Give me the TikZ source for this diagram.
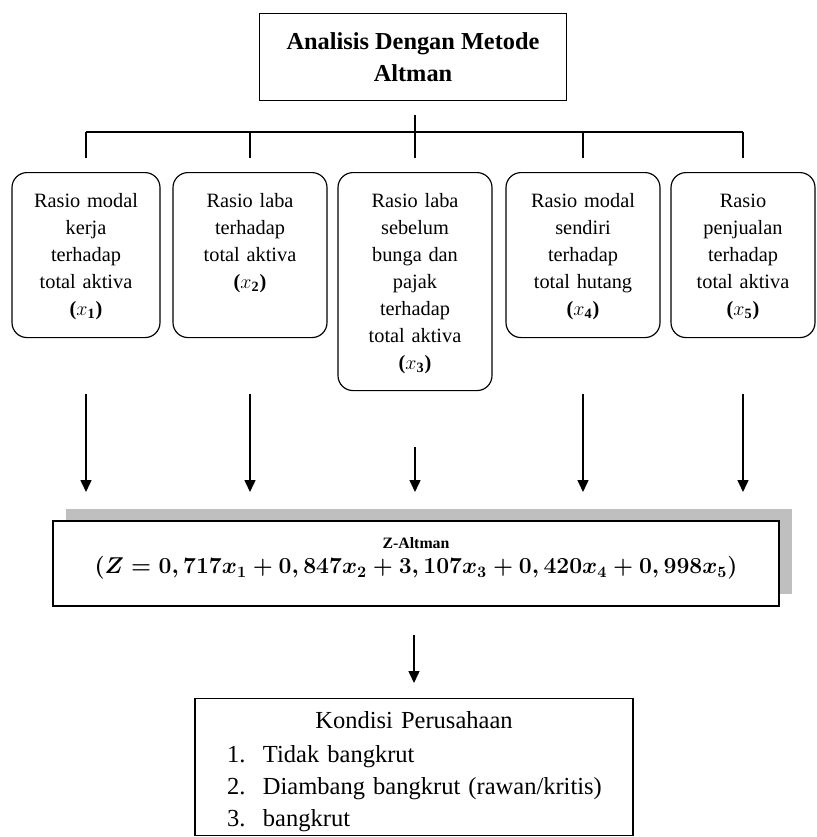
\documentclass[tikz,border=0pt]{standalone}
\usepackage{fontspec}
\usepackage{graphicx}
\setmainfont{Liberation Serif}
\usetikzlibrary{arrows.meta,shadows}

\tikzstyle{ratiobox}=[draw, line width=0.7pt, rounded corners=9pt, anchor=north, inner sep=0pt, text height=20.8pt, align=center, font=\fontsize{12.2}{16.2}\selectfont]
\tikzstyle{flow}=[-{Triangle[width=6.6pt,length=7.2pt]}, line width=0.9pt]
\tikzstyle{tree}=[line width=0.8pt]

\newcommand{\ratiovar}[1]{\textbf{(}$x_{\mathbf{#1}}$\textbf{)}}

\begin{document}
\begin{tikzpicture}[x=0.6pt, y=-0.6pt]
  \useasboundingbox (0,0) rectangle (816,837);

  \node[draw, line width=0.8pt, anchor=north, minimum width=184.2pt, minimum height=52.2pt,
        align=center, font=\fontsize{14.6}{19.2}\selectfont\bfseries] (title) at (413,13)
    {Analisis Dengan Metode\\Altman};

  % the five ratios
  \foreach \name/\cx/\w/\d/\txt in {%
      b1/86/88.8/78.2/{Rasio modal\\kerja\\terhadap\\total aktiva\\\ratiovar{1}},
      b2/250/92.4/78.2/{Rasio laba\\terhadap\\total aktiva\\\ratiovar{2}},
      b3/415/92.4/110/{Rasio laba\\sebelum\\bunga dan\\pajak\\terhadap\\total aktiva\\\ratiovar{3}},
      b4/583/92.4/78.2/{Rasio modal\\sendiri\\terhadap\\total hutang\\\ratiovar{4}},
      b5/743/86.4/78.2/{Rasio\\penjualan\\terhadap\\total aktiva\\\ratiovar{5}}} {%
    \node[ratiobox, text width=\w pt, text depth=\d pt] (\name) at (\cx,172) {\txt};
  }

  \coordinate (bus) at (415,132);
  \draw[tree, shorten <=8.4pt] (title.south -| bus) -- (bus);
  \draw[tree] (b1.north |- bus) -- (b5.north |- bus);
  \foreach \name in {b1,b2,b3,b4,b5}
    \draw[tree, shorten >=8.4pt] (\name.north |- bus) -- (\name.north);

  \node[draw, line width=1.1pt, fill=white, anchor=north, inner sep=0pt,
        text width=435.6pt, text height=16.8pt, text depth=34.2pt, align=center,
        general shadow={fill=black!25, shadow xshift=7.8pt, shadow yshift=7.2pt}] (zbox) at (416,520)
    {{\fontsize{9.5}{11}\selectfont\bfseries Z-Altman\par}
     {\fontsize{14}{15}\selectfont\scalebox{0.955}{\boldmath$(Z = 0,717x_1 + 0,847x_2 + 3,107x_3 + 0,420x_4 + 0,998x_5)$}\par}};

  \foreach \name in {b1,b2,b3,b4,b5}
    \draw[flow, shorten <=33.6pt, shorten >=16.8pt] (\name.south) -- (\name.south |- zbox.north);

  \node[draw, line width=0.8pt, anchor=north, inner sep=0pt, text width=262.8pt,
        text height=18pt, text depth=64.2pt, font=\fontsize{14.7}{19.2}\selectfont] (kbox) at (414,698)
    {\centering Kondisi Perusahaan\par\vspace{1.2pt}
     \raggedright
     \hspace*{19.2pt}\makebox[21.6pt][l]{1.}Tidak bangkrut\par
     \hspace*{19.2pt}\makebox[21.6pt][l]{2.}Diambang bangkrut (rawan/kritis)\par
     \hspace*{19.2pt}\makebox[21.6pt][l]{3.}bangkrut\par};

  \draw[flow, shorten <=16.8pt, shorten >=9pt] (zbox.south -| kbox.north) -- (kbox.north);
\end{tikzpicture}
\end{document}
